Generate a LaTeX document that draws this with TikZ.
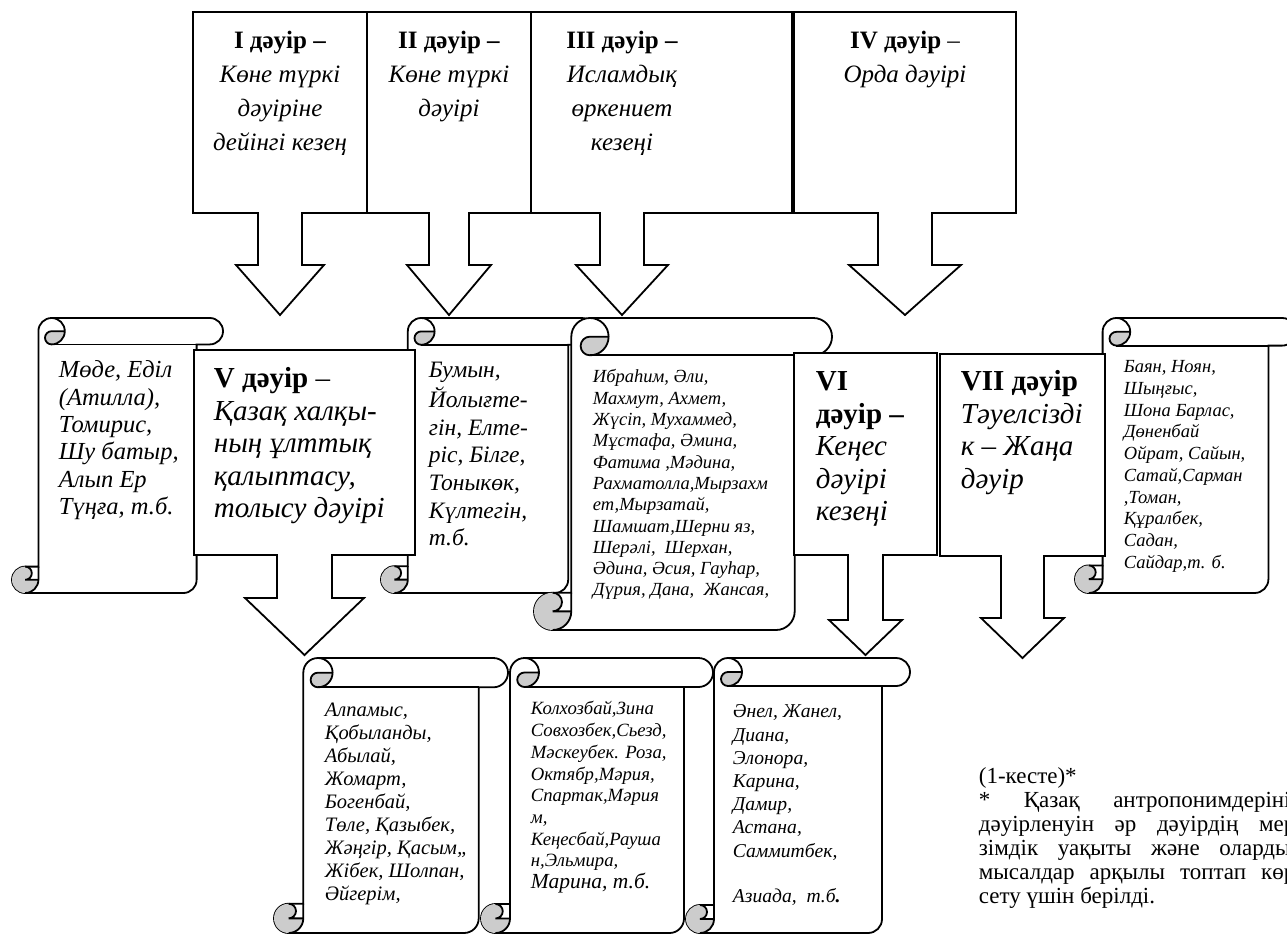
\documentclass[tikz,border=0pt]{standalone}
\usepackage{fontspec}
\setmainfont{Liberation Serif}
\usetikzlibrary{positioning}

% scroll: left, top, right, bottom, band height
\newcommand{\vscroll}[5]{%
  \pgfmathsetmacro{\sB}{#5/2}
  \pgfmathsetmacro{\sC}{#5/4}
  \pgfmathsetmacro{\sxA}{#1+#5/2}
  \pgfmathsetmacro{\sxB}{#1+#5}
  \pgfmathsetmacro{\sxC}{#1+1.5*#5}
  \pgfmathsetmacro{\sxD}{#1+2*#5}
  \pgfmathsetmacro{\sxE}{#3-#5}
  \pgfmathsetmacro{\sxF}{#3-#5/2}
  \pgfmathsetmacro{\syA}{#2+#5/2}
  \pgfmathsetmacro{\syB}{#2+#5}
  \pgfmathsetmacro{\syD}{#4-#5}
  \pgfmathsetmacro{\syE}{#4-#5/2}
  \draw[sheet] (\sxB,\syD) -- (\sxB,\syA) arc[start angle=180, delta angle=90, radius=\sB]
    -- (\sxF,#2) arc[start angle=270, delta angle=180, radius=\sB] -- (\sxE,\syB) -- (\sxE,\syE)
    arc[start angle=0, delta angle=90, radius=\sB] -- (\sxA,#4)
    arc[start angle=90, delta angle=180, radius=\sB] -- cycle;
  \fill[roll] (\sxD,\syA) arc[start angle=0, delta angle=90, radius=\sB]
    arc[start angle=90, delta angle=180, radius=\sC] -- cycle;
  \fill[roll] (\sxB,\syE) arc[start angle=0, delta angle=270, radius=\sB]
    arc[start angle=270, delta angle=180, radius=\sC] -- cycle;
  \draw (\sxC,#2) arc[start angle=270, delta angle=180, radius=\sB]
    arc[start angle=90, delta angle=180, radius=\sC] -- (\sxD,\syA);
  \draw (\sxE,\syB) -- (\sxC,\syB);
  \draw (\sxA,\syD) arc[start angle=270, delta angle=180, radius=\sC] -- (\sxB,\syE);
  \draw (\sxA,#4) arc[start angle=90, delta angle=-90, radius=\sB] -- (\sxB,\syD);
}

\begin{document}
\begin{tikzpicture}[x=1pt, y=-1pt, line width=1.8pt, line join=miter,
    sheet/.style={draw, fill=white},
    roll/.style={fill=black!20},
    dbox/.style={draw, fill=white},
    box/.style={inner sep=0pt, outer sep=0pt},
    ttl/.style={inner sep=0pt, align=center, font=\fontsize{25}{34}\selectfont},
    ptxt/.style={inner sep=0pt, align=left, font=\fontsize{29}{32.5}\selectfont},
    ntxt/.style={inner sep=0pt, align=left, anchor=north west}]
  \useasboundingbox (0,0) rectangle (1287,934);
  \clip (0,0) rectangle (1287,934);

  % middle row
  \vscroll{12}{318}{223}{593}{26.4}
  \node[ntxt, font=\fontsize{24.5}{27.3}\selectfont\itshape] (n1) at (58,357.9)
    {\strut Мөде, Еділ\\(Атилла),\\Томирис,\\Шу батыр,\\Алып Ер\\Түңға, т.б.};
  \vscroll{381}{318}{595}{593}{26.8}
  \node[ntxt, font=\fontsize{23.5}{27.6}\selectfont\itshape] (n2) at (428,357.7)
    {\strut Бумын,\\Йолығте-\\гін, Елте-\\ріс, Білге,\\Тоныкөк,\\Күлтегін,\\т.б.};

  \node[box, minimum width=221pt, minimum height=205pt] (d5) at (304.5,452.5) {};
  \draw[dbox] (277,555) -| (d5.north west) -| (d5.south east) -- (332,555) -- (332,598)
    -- (364,598) -- (304.5,655) -- (245,598) -- (277,598) -- cycle;
  \node[ptxt, below right=14.25pt and 19pt of d5.north west] (t5)
    {\strut\textbf{V дәуір} –\\\textit{Қазақ халқы-}\\\textit{ның ұлттық}\\\textit{қалыптасу,}\\\textit{толысу дәуірі}};

  \vscroll{534}{318}{832}{630}{37.3}
  \node[ntxt, font=\fontsize{18.5}{21.3}\selectfont\itshape] (n3) at (592,367.1)
    {\strut Ибраһим, Әли,\\Махмут, Ахмет,\\Жүсіп, Мухаммед,\\Мұстафа, Әмина,\\Фатима ,Мәдина,\\Рахматолла,Мырзахм\\ет,Мырзатай,\\Шамшат,Шерни яз,\\Шерәлі,\ \ Шерхан,\\Әдина, Әсия, Гауһар,\\Дүрия, Дана,\ \ Жансая,};

  \node[box, minimum width=143pt, minimum height=202pt] (d6) at (865.5,454) {};
  \draw[dbox] (848,555) -| (d6.north west) -| (d6.south east) -- (883,555) -- (883,620)
    -- (902,620) -- (865.5,655) -- (829,620) -- (848,620) -- cycle;
  \node[ptxt, below right=14.25pt and 21pt of d6.north west] (t6)
    {\strut\textbf{VI}\\\textbf{дәуір –}\\\textit{Кеңес}\\\textit{дәуірі}\\\textit{кезеңі}};

  \vscroll{1075}{318}{1296}{593}{27.6}
  \node[ntxt, font=\fontsize{18.5}{21.7}\selectfont\itshape] (n4) at (1123,356.8)
    {\strut Баян, Ноян,\\Шыңғыс,\\Шона Барлас,\\Дөненбай\\Ойрат, Сайын,\\Сатай,Сарман\\,Томан,\\Құралбек,\\Садан,\\Сайдар,т. б.};

  \node[box, minimum width=165pt, minimum height=202pt] (d7) at (1022.5,455) {};
  \draw[dbox] (1001,556) -| (d7.north west) -| (d7.south east) -- (1044,556) -- (1044,618)
    -- (1064,618) -- (1022.5,658) -- (981,618) -- (1001,618) -- cycle;
  \node[ptxt, below right=13.25pt and 20pt of d7.north west] (t7)
    {\strut\textbf{VII дәуір}\\\textit{Тәуелсізді}\\\textit{к – Жаңа}\\\textit{дәуір}};

  % top row
  \node[box, minimum width=174pt, minimum height=201pt] (d1) at (280,112.5) {};
  \node[box, minimum width=164pt, minimum height=201pt] (d2) at (449,112.5) {};
  \node[box, minimum width=261pt, minimum height=201pt] (d3) at (661.5,112.5) {};
  \node[box, minimum width=222pt, minimum height=201pt] (d4) at (905,112.5) {};
  \draw[dbox] (258,213) -| (d1.north west) -| (d1.south east) -- (302,213) -- (302,265)
    -- (324,265) -- (280,315) -- (236,265) -- (258,265) -- cycle;
  \draw[dbox] (429,213) -| (d2.north west) -| (d2.south east) -- (469,213) -- (469,265)
    -- (491,265) -- (449,315) -- (407,265) -- (429,265) -- cycle;
  \draw[dbox] (600,213) -| (d3.north west) -| (d3.south east) -- (644,213) -- (644,265)
    -- (668,265) -- (622,315) -- (576,265) -- (600,265) -- cycle;
  \draw[dbox] (878,213) -| (d4.north west) -| (d4.south east) -- (932,213) -- (932,265)
    -- (961,265) -- (905,315) -- (849,265) -- (878,265) -- cycle;
  \node[ttl, below=12pt of d1.north] (t1)
    {\strut\textbf{I дәуір –}\\\textit{Көне түркі}\\\textit{дәуіріне}\\\textit{дейінгі кезең}};
  \node[ttl, below=12pt of d2.north] (t2)
    {\strut\textbf{II дәуір –}\\\textit{Көне түркі}\\\textit{дәуірі}};
  \node[ttl, anchor=north] (t3) at (622,24.2)
    {\strut\textbf{III дәуір –}\\\textit{Исламдық}\\\textit{өркениет}\\\textit{кезеңі}};
  \node[ttl, below=12pt of d4.north] (t4)
    {\strut\textbf{IV дәуір} –\\\textit{Орда дәуірі}};

  % bottom row
  \vscroll{274}{658}{508}{933}{29.3}
  \node[ntxt, font=\fontsize{20.5}{23}\selectfont\itshape] (n5) at (324,699.9)
    {\strut Алпамыс,\\Қобыланды,\\Абылай,\\Жомарт,\\Богенбай,\\Төле, Қазыбек,\\Жәңгір, Қасым,,\\Жібек, Шолпан,\\Әйгерім,};
  \vscroll{481}{658}{713}{933}{29}
  \node[ntxt, font=\fontsize{18.7}{21.7}\selectfont\itshape] (n6) at (530,698.8)
    {\strut Колхозбай,Зина\\Совхозбек,Сьезд,\\Мәскеубек. Роза,\\Октябр,Мәрия,\\Спартак,Мәрия\\м,\\Кеңесбай,Рауша\\н,Эльмира,\\{\fontsize{21.5}{24}\selectfont Марина, т.б.}};
  \vscroll{686}{658}{910}{933}{28}
  \node[ntxt, font=\fontsize{19.6}{23.2}\selectfont\itshape] (n7) at (732,700.7)
    {\strut Әнел, Жанел,\\Диана,\\Элонора,\\Карина,\\Дамир,\\Астана,\\Саммитбек,\\[22pt]Азиада,\ \ т.б\textbf{.}};

  \node[ntxt, font=\fontsize{23}{24}\selectfont] (note) at (978,766.2)
    {\strut(1-кесте)*\\
     \makebox[324pt][s]{*\ Қазақ антропонимдерінің}\\
     \makebox[324pt][s]{дәуірленуін әр дәуірдің мер-}\\
     \makebox[324pt][s]{зімдік уақыты және олардың}\\
     \makebox[324pt][s]{мысалдар арқылы топтап көр-}\\
     сету үшін берілді.};
\end{tikzpicture}
\end{document}
